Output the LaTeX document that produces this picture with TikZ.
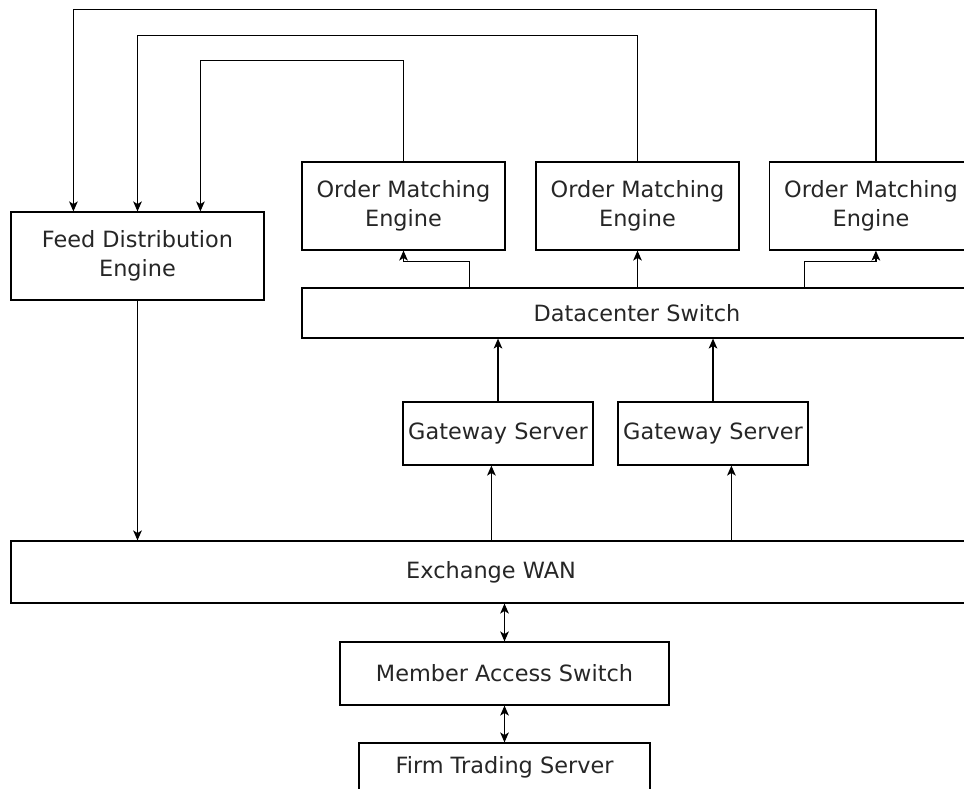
\documentclass[tikz,border=0pt]{standalone}
\usepackage{fontspec}
\setmainfont{DejaVu Sans}
\usetikzlibrary{arrows.meta,calc}
\begin{document}
\begin{tikzpicture}[x=0.75pt,y=-0.75pt,
  box/.style={draw,line width=0.9pt,inner sep=0pt,align=center,
    text=black!85,font=\fontsize{16.8}{21.5}\selectfont},
  arr/.style={-{Stealth[length=7.5pt,width=6.5pt,inset=2pt]},line width=0.9pt},
  both/.style={{Stealth[length=7.5pt,width=6.5pt,inset=2pt]}-{Stealth[length=7.5pt,width=6.5pt,inset=2pt]},line width=0.9pt}]
\useasboundingbox (0,0) rectangle (964,789);
\clip (0,0) rectangle (964,789);

% components
\node[box,minimum width={253*0.75pt},minimum height={88*0.75pt}] (fde) at (137.5,256) {Feed Distribution\\Engine};
\node[box,minimum width={203*0.75pt},minimum height={88*0.75pt}] (ome1) at (403.5,206) {Order Matching\\Engine};
\node[box,minimum width={203*0.75pt},minimum height={88*0.75pt}] (ome2) at (637.5,206) {Order Matching\\Engine};
\node[box,minimum width={203*0.75pt},minimum height={88*0.75pt}] (ome3) at (871,206) {Order Matching\\Engine};
\node[box,minimum width={670*0.75pt},minimum height={50*0.75pt}] (dcs) at (637,313) {Datacenter Switch};
\node[box,minimum width={190*0.75pt},minimum height={63*0.75pt}] (gw1) at (498,433.5) {Gateway Server};
\node[box,minimum width={190*0.75pt},minimum height={63*0.75pt}] (gw2) at (713,433.5) {Gateway Server};
\node[box,minimum width={960*0.75pt},minimum height={62*0.75pt}] (wan) at (491,572) {Exchange WAN};
\node[box,minimum width={329*0.75pt},minimum height={63*0.75pt}] (mas) at (504.5,673.5) {Member Access Switch};
\node[box,minimum width={291*0.75pt},minimum height={48*0.75pt}] (fts) at (504.5,767) {Firm Trading Server};

% attachment points
\coordinate (f1) at ($(fde.north west)+(63,0)$);
\coordinate (f3) at ($(fde.north west)+(190,0)$);
\coordinate (o3t) at ($(ome3.north west)+(107,0)$);
\coordinate (o3b) at ($(ome3.south west)+(107,0)$);
\coordinate (d1) at ($(dcs.north west)+(168,0)$);
\coordinate (d3) at ($(dcs.north west)+(503,0)$);
\coordinate (g1b) at ($(gw1.south west)+(89,0)$);
\coordinate (g2b) at ($(gw2.south west)+(114,0)$);

% market data back to the feed engine
\draw[arr] (ome1.north) -- ++(0,-101) -| (f3);
\draw[arr] (ome2.north) -- ++(0,-126) -| (fde.north);
\draw[arr] (o3t) -- ++(0,-152) -| (f1);

% switch to matching engines
\draw[arr] (d1) -- ++(0,-26) -| (ome1.south);
\draw[arr] (dcs.north -| ome2.south) -- (ome2.south);
\draw[arr] (d3) -- ++(0,-26) -| (o3b);

% gateways
\draw[arr] (gw1.north) -- (gw1.north |- dcs.south);
\draw[arr] (gw2.north) -- (gw2.north |- dcs.south);
\draw[arr] (g1b |- wan.north) -- (g1b);
\draw[arr] (g2b |- wan.north) -- (g2b);

% feed out to the WAN
\draw[arr] (fde.south) -- (fde.south |- wan.north);

% member side
\draw[both] (wan.south -| mas.north) -- (mas.north);
\draw[both] (mas.south) -- (fts.north);
\end{tikzpicture}
\end{document}
